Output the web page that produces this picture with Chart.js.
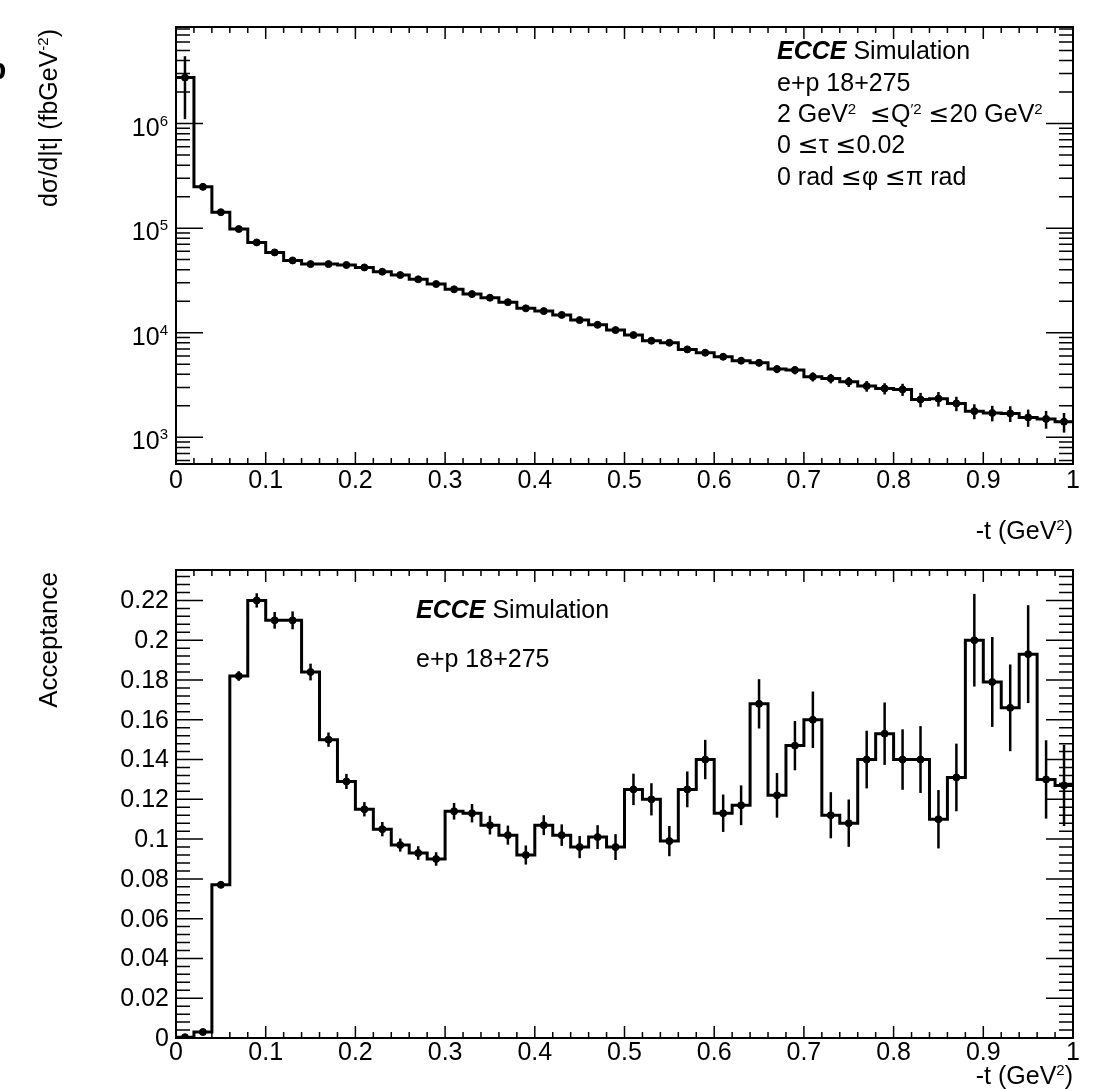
<!DOCTYPE html>
<html>
<head>
<meta charset="utf-8">
<script src="https://cdn.jsdelivr.net/npm/chart.js@4.4.1/dist/chart.umd.min.js"></script>
<style>
  body { margin: 0; background: #fff; width: 1119px; height: 1089px; overflow: hidden; position: relative; }
  canvas { position: absolute; left: 0; }
</style>
</head>
<body>
<canvas id="xsec" width="1119" height="544" style="top:0"></canvas>
<canvas id="acc" width="1119" height="545" style="top:544px"></canvas>
<script>
// bin edges in -t (GeV^2), 50 bins of 0.02
const binEdges = [0, 0.02, 0.04, 0.06, 0.08, 0.1, 0.12, 0.14, 0.16, 0.18, 0.2, 0.22, 0.24, 0.26, 0.28, 0.3, 0.32, 0.34, 0.36, 0.38, 0.4, 0.42, 0.44, 0.46, 0.48, 0.5, 0.52, 0.54, 0.56, 0.58, 0.6, 0.62, 0.64, 0.66, 0.68, 0.7, 0.72, 0.74, 0.76, 0.78, 0.8, 0.82, 0.84, 0.86, 0.88, 0.9, 0.92, 0.94, 0.96, 0.98, 1];

// dsigma/d|t| (fb GeV^-2)
const xsecValues = [2.75e6, 2.48e5, 1.42e5, 9.8e4, 7.3e4, 5.86e4, 4.91e4, 4.53e4, 4.53e4, 4.44e4,
  4.21e4, 3.83e4, 3.56e4, 3.24e4, 2.92e4, 2.60e4, 2.34e4, 2.16e4, 1.96e4, 1.71e4,
  1.61e4, 1.48e4, 1.32e4, 1.19e4, 1.06e4, 9500, 8380, 8020, 6930, 6440,
  5890, 5400, 5160, 4490, 4400, 3800, 3660, 3400, 3090, 2930,
  2870, 2300, 2340, 2110, 1780, 1710, 1690, 1550, 1500, 1410];
const xsecErrors = [1.65e6, 5000, 2800, 2000, 1500, 1200, 1000, 900, 900, 900,
  850, 800, 750, 700, 650, 600, 550, 520, 500, 450,
  450, 450, 420, 400, 380, 400, 380, 420, 380, 380,
  380, 380, 400, 380, 400, 380, 380, 370, 360, 360,
  380, 360, 370, 330, 290, 290, 290, 290, 290, 300];

// acceptance
const accValues = [0.0004, 0.003, 0.077, 0.182, 0.220, 0.210, 0.210, 0.184, 0.150, 0.129,
  0.115, 0.105, 0.097, 0.093, 0.090, 0.114, 0.113, 0.107, 0.102, 0.092,
  0.107, 0.102, 0.096, 0.101, 0.096, 0.125, 0.120, 0.099, 0.125, 0.140,
  0.113, 0.117, 0.168, 0.122, 0.147, 0.160, 0.112, 0.108, 0.140, 0.153,
  0.140, 0.140, 0.110, 0.131, 0.200, 0.179, 0.166, 0.193, 0.130, 0.127];
const accErrors = [0.0002, 0.0004, 0.0006, 0.0024, 0.0036, 0.0042, 0.0045, 0.0042, 0.0036, 0.0038,
  0.0036, 0.0036, 0.0033, 0.0034, 0.0034, 0.0042, 0.0046, 0.0047, 0.0048, 0.0048,
  0.005, 0.0054, 0.0056, 0.006, 0.0065, 0.0079, 0.0081, 0.0076, 0.009, 0.0099,
  0.0094, 0.01, 0.0124, 0.0112, 0.0124, 0.0142, 0.0116, 0.0119, 0.0145, 0.0157,
  0.0152, 0.0168, 0.0147, 0.017, 0.0233, 0.0226, 0.0218, 0.0246, 0.0197, 0.0204];

const tTicks = [0, 0.1, 0.2, 0.3, 0.4, 0.5, 0.6, 0.7, 0.8, 0.9, 1];
const tLabels = ['0', '0.1', '0.2', '0.3', '0.4', '0.5', '0.6', '0.7', '0.8', '0.9', '1'];
const accTicks = [0, 0.02, 0.04, 0.06, 0.08, 0.1, 0.12, 0.14, 0.16, 0.18, 0.2, 0.22];
const accLabels = ['0', '0.02', '0.04', '0.06', '0.08', '0.1', '0.12', '0.14', '0.16', '0.18', '0.2', '0.22'];
const xsecDecades = [3, 4, 5, 6];

const FONT = '"Liberation Sans", Arial, Helvetica, sans-serif';
const SYMFONT = '"DejaVu Sans", sans-serif';
const FS = 25;

function stepPoints(vals) {
  const pts = vals.map((v, i) => ({ x: binEdges[i], y: v }));
  pts.push({ x: binEdges[binEdges.length - 1], y: vals[vals.length - 1] });
  return pts;
}
function centerPoints(vals) {
  return vals.map((v, i) => ({ x: (binEdges[i] + binEdges[i + 1]) / 2, y: v }));
}

// draw text made of pieces: superscript, bold italic, or symbol font
function setFont(ctx, s, size) {
  const sz = s.sup ? Math.round(size * 0.6) : size;
  ctx.font = (s.bold ? 'italic bold ' : '') + sz + 'px ' + (s.sym ? SYMFONT : FONT);
}
function rich(ctx, x, y, segs, size) {
  let cx = x;
  segs.forEach(s => {
    setFont(ctx, s, size);
    ctx.fillText(s.t, cx, y - (s.sup ? s.raise : 0));
    cx += ctx.measureText(s.t).width;
  });
}
function richWidth(ctx, segs, size) {
  let w = 0;
  segs.forEach(s => { setFont(ctx, s, size); w += ctx.measureText(s.t).width; });
  return w;
}
const LEQ = { t: '\u2264', sym: true };

// ROOT-like frame: inward ticks on four sides, error bars, labels, texts
const rootFrame = {
  id: 'rootFrame',
  afterDatasetsDraw(chart, args, o) {
    const { ctx, chartArea: a, scales: { x, y } } = chart;
    ctx.save();
    ctx.strokeStyle = '#000';
    ctx.fillStyle = '#000';

    // error bars
    ctx.lineWidth = 2.5;
    o.values.forEach((v, i) => {
      const px = x.getPixelForValue((binEdges[i] + binEdges[i + 1]) / 2);
      const lo = Math.max(v - o.errors[i], y.min);
      ctx.beginPath();
      ctx.moveTo(px, y.getPixelForValue(v + o.errors[i]));
      ctx.lineTo(px, y.getPixelForValue(lo));
      ctx.stroke();
    });

    // ticks
    ctx.lineWidth = 1.5;
    for (let i = 0; i <= 50; i++) {
      const px = x.getPixelForValue(i / 50);
      const len = i % 5 === 0 ? 12 : 6;
      ctx.beginPath();
      ctx.moveTo(px, a.bottom); ctx.lineTo(px, a.bottom - len);
      ctx.moveTo(px, a.top); ctx.lineTo(px, a.top + len);
      ctx.stroke();
    }
    o.yTicks().forEach(t => {
      if (t.v < y.min || t.v > y.max) return;
      const py = y.getPixelForValue(t.v);
      const len = t.major ? 27 : 14;
      ctx.beginPath();
      ctx.moveTo(a.left, py); ctx.lineTo(a.left + len, py);
      ctx.moveTo(a.right, py); ctx.lineTo(a.right - len, py);
      ctx.stroke();
    });

    ctx.lineWidth = 2;
    ctx.strokeRect(a.left, a.top, a.right - a.left, a.bottom - a.top);

    // x tick labels
    ctx.font = FS + 'px ' + FONT;
    ctx.textAlign = 'center';
    ctx.textBaseline = 'alphabetic';
    tTicks.forEach((v, i) => ctx.fillText(tLabels[i], x.getPixelForValue(v), a.bottom + o.xLabelDy));
    ctx.textAlign = 'left';

    // free texts
    o.texts.forEach(t => rich(ctx, t.x, t.y, t.segs, FS));

    // y title, rotated, aligned to the top of the axis
    ctx.save();
    ctx.translate(57, a.top + 2);
    ctx.rotate(-Math.PI / 2);
    const w = richWidth(ctx, o.yTitle, o.yTitleSize);
    rich(ctx, -w, 0, o.yTitle, o.yTitleSize);
    ctx.restore();

    // x title, aligned to the right end
    const xt = [{ t: '-t (GeV' }, { t: '2', sup: true, raise: 9 }, { t: ')' }];
    rich(ctx, a.right - richWidth(ctx, xt, FS), o.xTitleY, xt, FS);

    o.yLabels(ctx, a, y);
    ctx.restore();
  }
};

function baseOptions(pad, xHeight) {
  return {
    responsive: false,
    animation: false,
    layout: { padding: pad },
    plugins: { legend: { display: false }, tooltip: { enabled: false } },
    scales: {
      x: {
        type: 'linear', min: 0, max: 1,
        grid: { display: false, drawTicks: false },
        border: { display: false },
        ticks: { display: false, stepSize: 0.1 },
        afterFit: s => { s.height = xHeight; }
      }
    }
  };
}

// ---- top: cross section, log scale ----
const topOpts = baseOptions({ left: 0, right: 46, top: 27, bottom: 0 }, 80);
topOpts.scales.y = {
  type: 'logarithmic', min: 556, max: 8.37e6,
  grid: { display: false, drawTicks: false },
  border: { display: false },
  ticks: { display: false },
  afterFit: s => { s.width = 176; }
};
topOpts.plugins.rootFrame = {
  values: xsecValues,
  errors: xsecErrors,
  xTitleY: 539,
  xLabelDy: 24,
  yTicks: () => {
    const t = [];
    for (let e = 2; e <= 7; e++) for (let m = 1; m <= 9; m++) t.push({ v: m * Math.pow(10, e), major: m === 1 });
    return t;
  },
  yTitleSize: 25,
  yTitle: [{ t: 'd\u03c3/d|t| (fbGeV' }, { t: '-2', sup: true, raise: 9 }, { t: ')' }],
  texts: [
    { x: 777, y: 59, segs: [{ t: 'ECCE', bold: true }, { t: ' Simulation' }] },
    { x: 777, y: 91, segs: [{ t: 'e+p 18+275' }] },
    { x: 777, y: 122, segs: [{ t: '2 GeV' }, { t: '2', sup: true, raise: 8 }, { t: '  ' }, LEQ, { t: 'Q' }, { t: '\u20322', sup: true, raise: 8 }, { t: ' ' }, LEQ, { t: '20 GeV' }, { t: '2', sup: true, raise: 8 }] },
    { x: 777, y: 153, segs: [{ t: '0 ' }, LEQ, { t: '\u03c4 ' }, LEQ, { t: '0.02' }] },
    { x: 777, y: 185, segs: [{ t: '0 rad ' }, LEQ, { t: '\u03c6 ' }, LEQ, { t: '\u03c0 rad' }] }
  ],
  yLabels: (ctx, a, y) => {
    // decade labels 10^n
    xsecDecades.forEach(e => {
      const py = y.getPixelForValue(Math.pow(10, e));
      ctx.font = '15px ' + FONT;
      const ws = ctx.measureText(String(e)).width;
      ctx.fillText(String(e), 168 - ws, py + 2);
      ctx.font = FS + 'px ' + FONT;
      const w10 = ctx.measureText('10').width;
      ctx.fillText('10', 168 - ws - w10, py + 12);
    });
    // cut-off panel letter at the far left
    ctx.font = 'bold 30px ' + FONT;
    ctx.fillText('b', -12, 79);
  }
};
new Chart(document.getElementById('xsec'), {
  type: 'line',
  data: {
    datasets: [
      { data: stepPoints(xsecValues), stepped: 'before', borderColor: '#000', borderWidth: 3, pointRadius: 0, fill: false },
      { type: 'scatter', data: centerPoints(xsecValues), pointRadius: 3.5, backgroundColor: '#000', borderColor: '#000', showLine: false }
    ]
  },
  options: topOpts,
  plugins: [rootFrame]
});

// ---- bottom: acceptance ----
const botOpts = baseOptions({ left: 0, right: 46, top: 26, bottom: 0 }, 51);
botOpts.scales.y = {
  type: 'linear', min: 0, max: 0.2353,
  grid: { display: false, drawTicks: false },
  border: { display: false },
  ticks: { display: false, stepSize: 0.02 },
  afterFit: s => { s.width = 176; }
};
botOpts.plugins.rootFrame = {
  values: accValues,
  errors: accErrors,
  xTitleY: 540,
  xLabelDy: 22,
  yTicks: () => {
    const t = [];
    for (let i = 0; i <= 60; i++) t.push({ v: i * 0.004, major: i % 5 === 0 });
    return t;
  },
  yTitleSize: 26,
  yTitle: [{ t: 'Acceptance' }],
  texts: [
    { x: 416, y: 74, segs: [{ t: 'ECCE', bold: true }, { t: ' Simulation' }] },
    { x: 416, y: 123, segs: [{ t: 'e+p 18+275' }] }
  ],
  yLabels: (ctx, a, y) => {
    ctx.font = FS + 'px ' + FONT;
    ctx.textAlign = 'right';
    ctx.textBaseline = 'middle';
    accTicks.forEach((v, i) => ctx.fillText(accLabels[i], 169, y.getPixelForValue(v) + 1));
  }
};
new Chart(document.getElementById('acc'), {
  type: 'line',
  data: {
    datasets: [
      { data: stepPoints(accValues), stepped: 'before', borderColor: '#000', borderWidth: 3, pointRadius: 0, fill: false },
      { type: 'scatter', data: centerPoints(accValues), pointRadius: 3.5, backgroundColor: '#000', borderColor: '#000', showLine: false }
    ]
  },
  options: botOpts,
  plugins: [rootFrame]
});
</script>
</body>
</html>
